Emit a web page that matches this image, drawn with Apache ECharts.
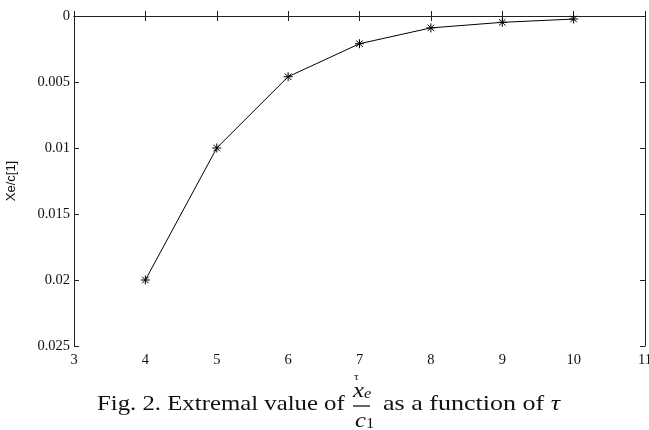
<!DOCTYPE html>
<html>
<head>
<meta charset="utf-8">
<script src="https://cdn.jsdelivr.net/npm/echarts@6/dist/echarts.min.js"></script>
<style>html,body{margin:0;padding:0;background:#fff}#c{width:649px;height:430px}</style>
</head>
<body>
<div id="c"></div>
<script>
var tau = [4, 5, 6, 7, 8, 9, 10];
var xeOverC1 = [0.02, 0.01, 0.0046, 0.0021, 0.0009, 0.00048, 0.00023];
var yTickLabels = ['0', '0.005', '0.01', '0.015', '0.02', '0.025'];
var xTickLabels = ['3', '4', '5', '6', '7', '8', '9', '10', '11'];

var chart = echarts.init(document.getElementById('c'), null, {renderer: 'canvas'});
var serif = '"Liberation Serif", "DejaVu Serif", serif';
var axisCol = '#222';
var star = 'path://M0,-5L0,5M-5,0L5,0M-3.6,-3.6L3.6,3.6M-3.6,3.6L3.6,-3.6';
var sx = 1.18;

var data = tau.map(function (t, i) { return [t, xeOverC1[i]]; });

chart.setOption({
  animation: false,
  backgroundColor: '#fff',
  grid: {left: 74, right: 4, top: 16, bottom: 84, outerBoundsMode: 'none', containLabel: false},
  xAxis: [{
    type: 'value', min: 3, max: 11, interval: 1, position: 'bottom',
    axisLine: {lineStyle: {color: axisCol, width: 1}},
    axisTick: {inside: true, length: 5, lineStyle: {color: axisCol}},
    splitLine: {show: false},
    axisLabel: {
      color: '#111', fontFamily: serif, fontSize: 14.5, margin: 7,
      formatter: function (v) { return xTickLabels[Math.round(v - 3)]; }
    }
  }, {
    type: 'value', min: 3, max: 11, interval: 1, position: 'top',
    axisLine: {lineStyle: {color: axisCol, width: 1}},
    axisTick: {inside: true, length: 5, lineStyle: {color: axisCol}},
    splitLine: {show: false}, axisLabel: {show: false}
  }],
  yAxis: [{
    type: 'value', min: 0, max: 0.025, interval: 0.005, inverse: true, position: 'left',
    name: 'Xe/c[1]', nameLocation: 'middle', nameRotate: 90, nameGap: 56,
    nameTextStyle: {fontFamily: '"Liberation Sans", Arial, sans-serif', fontSize: 13, color: '#111'},
    axisLine: {show: true, lineStyle: {color: axisCol, width: 1}},
    axisTick: {show: true, inside: true, length: 5, lineStyle: {color: axisCol}},
    splitLine: {show: false},
    axisLabel: {
      color: '#111', fontFamily: serif, fontSize: 14.5, margin: 4,
      formatter: function (v) { return yTickLabels[Math.round(v / 0.005)]; }
    }
  }, {
    type: 'value', min: 0, max: 0.025, interval: 0.005, inverse: true, position: 'right',
    axisLine: {show: true, lineStyle: {color: axisCol, width: 1}},
    axisTick: {show: true, inside: true, length: 5, lineStyle: {color: axisCol}},
    splitLine: {show: false}, axisLabel: {show: false}
  }],
  series: [{
    type: 'line',
    data: data,
    symbol: star,
    symbolSize: 9,
    showAllSymbol: true,
    lineStyle: {color: '#000', width: 1},
    itemStyle: {color: '#000', borderColor: '#000', borderWidth: 1}
  }],
  graphic: [
    {type: 'text', x: 97, y: 394, scaleX: sx, style: {text: 'Fig. 2. Extremal value of', font: '21px ' + serif, fill: '#111'}},
    {type: 'text', x: 354, y: 372, scaleX: sx, style: {text: 'τ', font: '10px ' + serif, fill: '#111'}},
    {type: 'text', x: 353, y: 381, scaleX: sx, style: {
      text: '{x|x}{e|e}', fill: '#111',
      rich: {
        x: {font: 'italic 21px ' + serif, fill: '#111'},
        e: {font: 'italic 14px ' + serif, fill: '#111', padding: [6, 0, 0, 0]}
      }
    }},
    {type: 'line', shape: {x1: 353, y1: 406, x2: 370, y2: 406}, style: {stroke: '#111', lineWidth: 1.3}},
    {type: 'text', x: 355, y: 411, scaleX: sx, style: {
      text: '{c|c}{o|1}', fill: '#111',
      rich: {
        c: {font: 'italic 21px ' + serif, fill: '#111'},
        o: {font: '14px ' + serif, fill: '#111', padding: [6, 0, 0, 0]}
      }
    }},
    {type: 'text', x: 383, y: 394, scaleX: 1.24, style: {
      text: '{n|as a function of }{t|τ}', fill: '#111',
      rich: {
        n: {font: '21px ' + serif, fill: '#111'},
        t: {font: 'italic 21px ' + serif, fill: '#111'}
      }
    }}
  ]
});
</script>
</body>
</html>
